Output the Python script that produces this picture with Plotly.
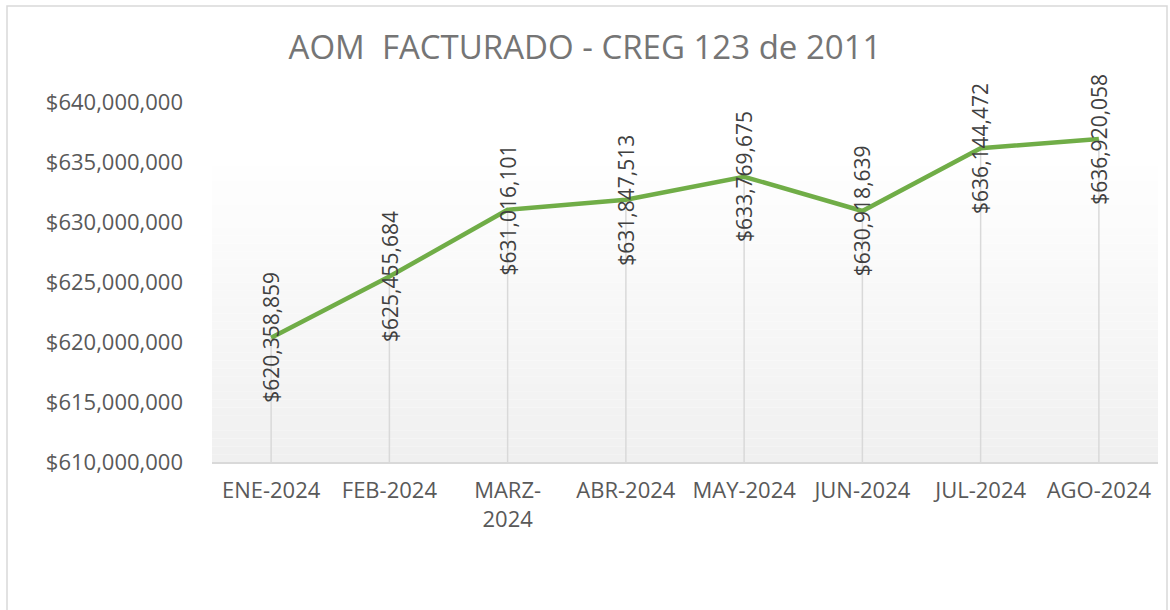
import plotly.graph_objects as go

categories = ["ENE-2024", "FEB-2024", "MARZ-<br>2024", "ABR-2024", "MAY-2024", "JUN-2024", "JUL-2024", "AGO-2024"]
values = [620358859, 625455684, 631016101, 631847513, 633769675, 630918639, 636144472, 636920058]
tick_vals = [610000000, 615000000, 620000000, 625000000, 630000000, 635000000, 640000000]
tick_text = ["${:,.0f}".format(v) for v in tick_vals]
title_text = "AOM  FACTURADO - CREG 123 de 2011"

FONT = "Open Sans"
Y_MIN, Y_MAX = 610000000, 640000000

fig = go.Figure()

# drop lines from each point down to the axis
dx, dy = [], []
for c, v in zip(categories, values):
    dx += [c, c, None]
    dy += [Y_MIN, v, None]
fig.add_trace(go.Scatter(x=dx, y=dy, mode="lines",
                         line=dict(color="#d9d9d9", width=1.5),
                         hoverinfo="skip", showlegend=False))

fig.add_trace(go.Scatter(x=categories, y=values, mode="lines",
                         line=dict(color="#70ad47", width=4.5),
                         showlegend=False))

# data labels
for c, v in zip(categories, values):
    fig.add_annotation(x=c, y=v, text="${:,.0f}".format(v), textangle=-90,
                       showarrow=False, xanchor="center", yanchor="middle",
                       font=dict(family=FONT, size=21, color="#404040"))

# gradient background of plot area
L, R, T, B = 212, 1158, 102, 462
W, H = R - L, B - T
shapes = []
steps = 40
y0p, y1p = 0.0, (B - 150) / H
for i in range(steps):
    t = i / (steps - 1)
    g = int(round(255 - (255 - 240) * (1 - t)))
    col = "rgb({0},{0},{0})".format(g)
    shapes.append(dict(type="rect", xref="paper", yref="paper",
                       x0=0, x1=1.0,
                       y0=y0p + (y1p - y0p) * i / steps,
                       y1=y0p + (y1p - y0p) * (i + 1) / steps,
                       line=dict(width=0), fillcolor=col, layer="below"))
# outer border
shapes.append(dict(type="rect", xref="paper", yref="paper",
                   x0=(7 - L) / W, x1=(1167 - L) / W,
                   y0=(B - 640) / H, y1=(B - 6) / H,
                   line=dict(color="#d9d9d9", width=1.5), fillcolor="rgba(0,0,0,0)",
                   layer="below"))

fig.update_layout(
    width=1170, height=610,
    margin=dict(l=L, r=1170 - R, t=T, b=610 - B),
    paper_bgcolor="white", plot_bgcolor="rgba(0,0,0,0)",
    shapes=shapes,
    title=dict(text=title_text, x=0.5, xref="container", xanchor="center",
               y=1 - 47 / 610, yref="container", yanchor="middle",
               font=dict(family=FONT, size=33, color="#757575")),
    xaxis=dict(type="category", showgrid=False, zeroline=False,
               showline=True, linecolor="#d9d9d9", linewidth=2,
               ticks="", ticklabelstandoff=8,
               tickfont=dict(family=FONT, size=22, color="#595959"),
               range=[-0.5, len(categories) - 0.5]),
    yaxis=dict(range=[Y_MIN, Y_MAX], tickvals=tick_vals, ticktext=tick_text,
               showgrid=False, zeroline=False, showline=False, ticks="",
               ticklabelstandoff=28,
               tickfont=dict(family=FONT, size=22, color="#595959")),
)

fig.write_html("out.html", config={"displayModeBar": False},
               post_script="document.body.style.margin='0';")
